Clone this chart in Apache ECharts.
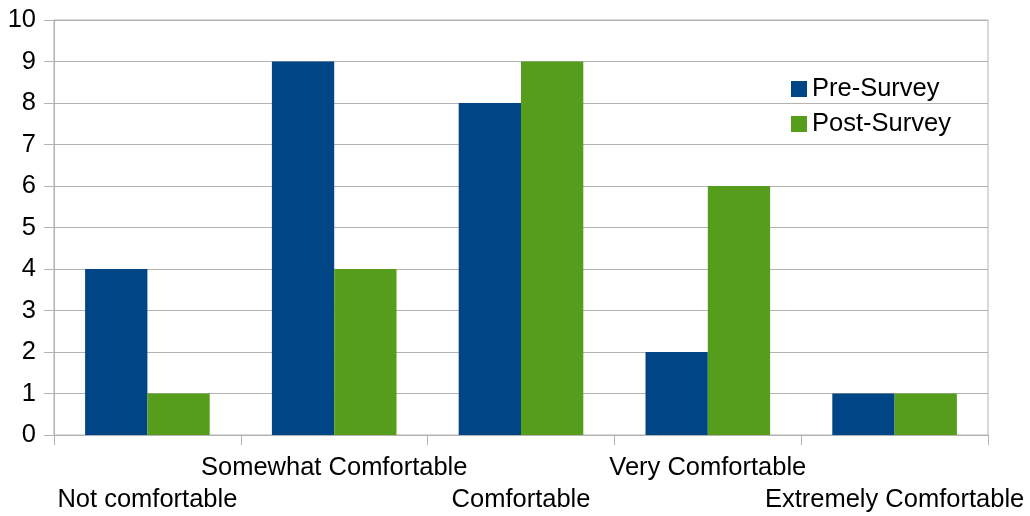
<!DOCTYPE html>
<html><head><meta charset="utf-8">
<script src="https://cdn.jsdelivr.net/npm/echarts@6/dist/echarts.min.js"></script>
<style>html,body{margin:0;padding:0;background:#fff}#c{width:1030px;height:516px}</style>
</head><body><div id="c"></div>
<script>
const categories = ["Not comfortable","Somewhat Comfortable","Comfortable","Very Comfortable","Extremely Comfortable"];
const preSurvey = [4, 9, 8, 2, 1];
const postSurvey = [1, 4, 9, 6, 1];
const seriesNames = ["Pre-Survey","Post-Survey"];

const chart = echarts.init(document.getElementById('c'));
const font = 'Liberation Sans';
chart.setOption({
  animation:false,
  backgroundColor:'#fff',
  grid:{left:54,right:42,top:20,bottom:78,show:true,borderColor:'#b3b3b3',borderWidth:1},
  legend:{
    orient:'vertical', left:786, top:71, itemWidth:16, itemHeight:16, itemGap:9,
    icon:'rect',
    textStyle:{fontFamily:font,fontSize:25.5,color:'#000',lineHeight:25,padding:[0,0,0,0]},
    data:seriesNames
  },
  xAxis:{
    type:'category', data:categories,
    axisLine:{lineStyle:{color:'#b3b3b3'}},
    axisTick:{show:true,length:10,lineStyle:{color:'#b3b3b3'}},
    axisLabel:{
      interval:0, margin:17, fontFamily:font, fontSize:25.5, color:'#000', lineHeight:32,
      formatter:(v,i)=> i%2===0 ? '\n'+v : v
    }
  },
  yAxis:{
    type:'value', min:0, max:10, interval:1,
    axisLine:{show:true,lineStyle:{color:'#b3b3b3'}},
    axisTick:{show:true,length:10,lineStyle:{color:'#b3b3b3'}},
    splitLine:{lineStyle:{color:'#b3b3b3'}},
    axisLabel:{margin:18,fontFamily:font,fontSize:25.5,color:'#000'}
  },
  series:[
    {name:seriesNames[0],type:'bar',data:preSurvey,itemStyle:{color:'#004586'},barGap:'0%',barCategoryGap:'33.3%'},
    {name:seriesNames[1],type:'bar',data:postSurvey,itemStyle:{color:'#579d1c'},barGap:'0%',barCategoryGap:'33.3%'}
  ]
});
</script></body></html>
